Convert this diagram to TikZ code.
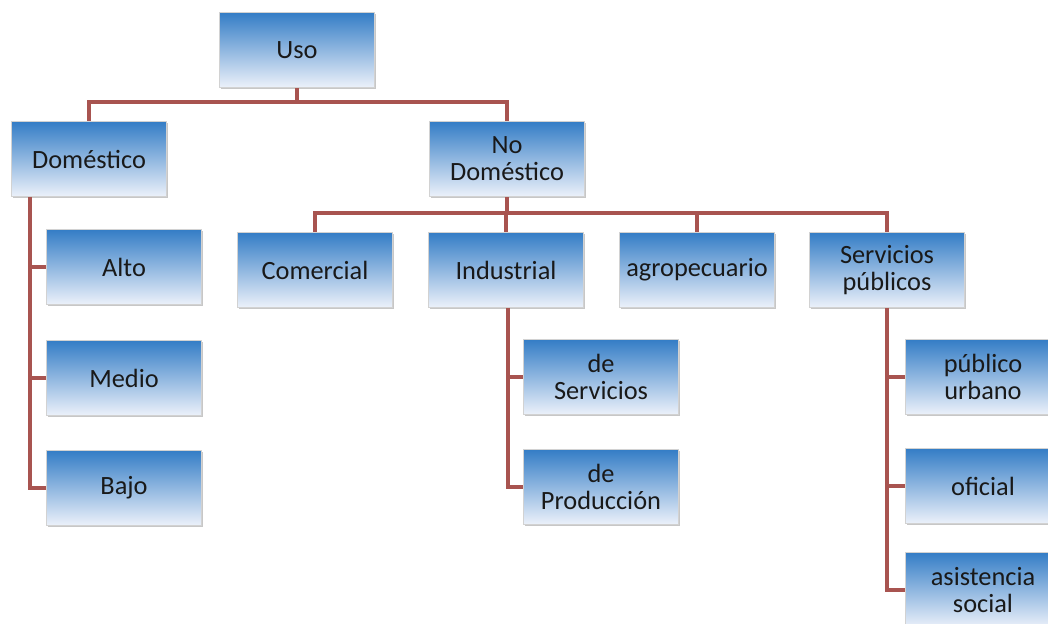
\documentclass[tikz,border=0pt]{standalone}
\usepackage{fontspec}
\setmainfont{Carlito}
\usetikzlibrary{shadows}

\definecolor{linkred}{RGB}{168,84,80}
\definecolor{boxtop}{RGB}{52,125,198}
\definecolor{boxbot}{RGB}{236,241,250}

\tikzset{
  usobox/.style={rectangle, draw=gray!35, line width=0.6pt,
    top color=boxtop, bottom color=boxbot,
    drop shadow={shadow xshift=0.8pt, shadow yshift=-0.8pt, fill=gray!55, opacity=0.8},
    minimum width=3.1cm, minimum height=1.5cm, align=center,
    font=\fontsize{15}{15.5}\selectfont, text=black!90},
  link/.style={draw=linkred, line width=1.8pt}
}

\begin{document}
\begin{tikzpicture}[x=0.02cm,y=-0.02cm]
  \useasboundingbox (0,0) rectangle (1048,624);
  \clip (0,0) rectangle (1048,624);

  % Top levels
  \node[usobox] (uso) at (297,50) {Uso};
  \node[usobox] (dom) at (89,159) {Doméstico};
  \node[usobox] (nodom) at (507,159) {No\\Doméstico};

  \node[usobox] (comer) at (315,270) {Comercial};
  \node[usobox] (indus) at (506,270) {Industrial};
  \node[usobox] (agro) at (697,270) {agropecuario};
  \node[usobox] (serv) at (887,270) {Servicios\\públicos};

  % Domestico
  \node[usobox] (alto) at (124,267) {Alto};
  \node[usobox] (medio) at (124,378) {Medio};
  \node[usobox] (bajo) at (124,488) {Bajo};

  % Industrial
  \node[usobox] (deserv) at (601,377) {de\\Servicios};
  \node[usobox] (deprod) at (601,487) {de\\Producción};

  % Servicios publicos
  \node[usobox] (urbano) at (983,377) {público\\urbano};
  \node[usobox] (oficial) at (983,486) {oficial};
  \node[usobox] (asist) at (983,590) {asistencia\\social};

  % Connectors
  \coordinate (bus1) at (297,102);
  \coordinate (bus2) at (507,213);
  \draw[link] (uso.south) -- (bus1);
  \draw[link] (dom.north) |- (bus1) -| (nodom.north);
  \draw[link] (nodom.south) -- (bus2);
  \draw[link] (comer.north) |- (bus2) -| (serv.north);
  \draw[link] (indus.north) -- (indus.north |- bus2);
  \draw[link] (agro.north) -- (agro.north |- bus2);

  \coordinate (dtrunk) at (30,197);
  \draw[link] (dtrunk) |- (bajo.west);
  \draw[link] (dtrunk |- alto.west) -- (alto.west);
  \draw[link] (dtrunk |- medio.west) -- (medio.west);

  \coordinate (itrunk) at (508,308);
  \draw[link] (itrunk) |- (deprod.west);
  \draw[link] (itrunk |- deserv.west) -- (deserv.west);

  \coordinate (strunk) at (887,308);
  \draw[link] (strunk) |- (asist.west);
  \draw[link] (strunk |- urbano.west) -- (urbano.west);
  \draw[link] (strunk |- oficial.west) -- (oficial.west);
\end{tikzpicture}
\end{document}
